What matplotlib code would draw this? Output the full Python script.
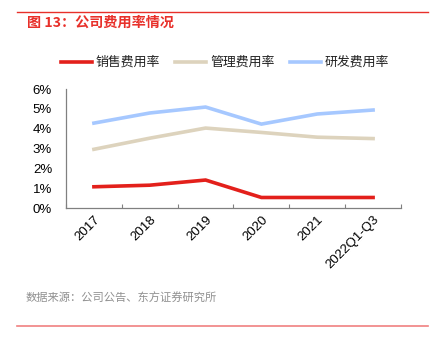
import matplotlib
matplotlib.use("Agg")
import matplotlib.pyplot as plt
from matplotlib.lines import Line2D
import numpy as np

plt.rcParams['font.family'] = ['Noto Sans CJK SC', 'DejaVu Sans']

categories = ["2017", "2018", "2019", "2020", "2021", "2022Q1-Q3"]
sales = [1.07, 1.15, 1.41, 0.53, 0.53, 0.53]
admin = [2.96, 3.52, 4.03, 3.81, 3.57, 3.50]
rnd = [4.28, 4.79, 5.09, 4.23, 4.74, 4.94]
names = ["销售费用率", "管理费用率", "研发费用率"]
yticks = [0, 1, 2, 3, 4, 5, 6]

colors = ["#e3201b", "#ddd3bd", "#a6c8ff"]

W, H = 434, 340
fig = plt.figure(figsize=(W/100, H/100), dpi=100)

def fx(px): return px / W
def fy(py): return 1 - py / H

ax = fig.add_axes([fx(66), fy(208), fx(401) - fx(66), fy(89) - fy(208)])
x = np.arange(len(categories))
for vals, c in zip([sales, admin, rnd], colors):
    ax.plot(x, vals, color=c, lw=2.6, solid_joinstyle='miter')

ax.set_xlim(-0.5, len(categories) - 0.5)
ax.set_ylim(0, 6)
ax.set_yticks(yticks)
ax.set_yticklabels([f"{v}%" for v in yticks], fontsize=9.5, family=['Liberation Sans', 'DejaVu Sans'])
ax.tick_params(axis='y', length=0, pad=10)
ax.set_xticks(np.arange(len(categories) + 1) - 0.5, minor=False)
ax.set_xticklabels([])
ax.tick_params(axis='x', which='major', direction='in', length=3, color='#808080')
ax.set_xticks(x, minor=True)
ax.set_xticklabels(categories, minor=True, rotation=45, ha='right', rotation_mode='anchor',
                   fontsize=9.5, family=['Liberation Sans', 'DejaVu Sans'])
ax.tick_params(axis='x', which='minor', length=0, pad=4)
for s in ['top', 'right']:
    ax.spines[s].set_visible(False)
for s in ['left', 'bottom']:
    ax.spines[s].set_color('#808080')
    ax.spines[s].set_linewidth(0.9)

# Legend (manual placement)
leg_y = 62
leg_starts = [61, 175, 290]
for start, c, n in zip(leg_starts, colors, names):
    fig.add_artist(Line2D([fx(start), fx(start + 31)], [fy(leg_y), fy(leg_y)], color=c, lw=2.6))
    fig.text(fx(start + 35), fy(leg_y), n, fontsize=9.3, va='center', ha='left', color='#222222')

# Title, rules, source
fig.add_artist(Line2D([fx(17), fx(428)], [fy(12), fy(12)], color='#e8302a', lw=1.0))
fig.text(fx(27), fy(23), "图 13：公司费用率情况", color='#e8302a', fontsize=10.2,
         fontweight='bold', va='center', ha='left')
fig.text(fx(26), fy(298), "数据来源：公司公告、东方证券研究所", color='#909090', fontsize=8.1,
         va='center', ha='left')
fig.add_artist(Line2D([fx(17), fx(428)], [fy(326), fy(326)], color='#f08080', lw=1.2))

fig.savefig("out.png", dpi=100)
